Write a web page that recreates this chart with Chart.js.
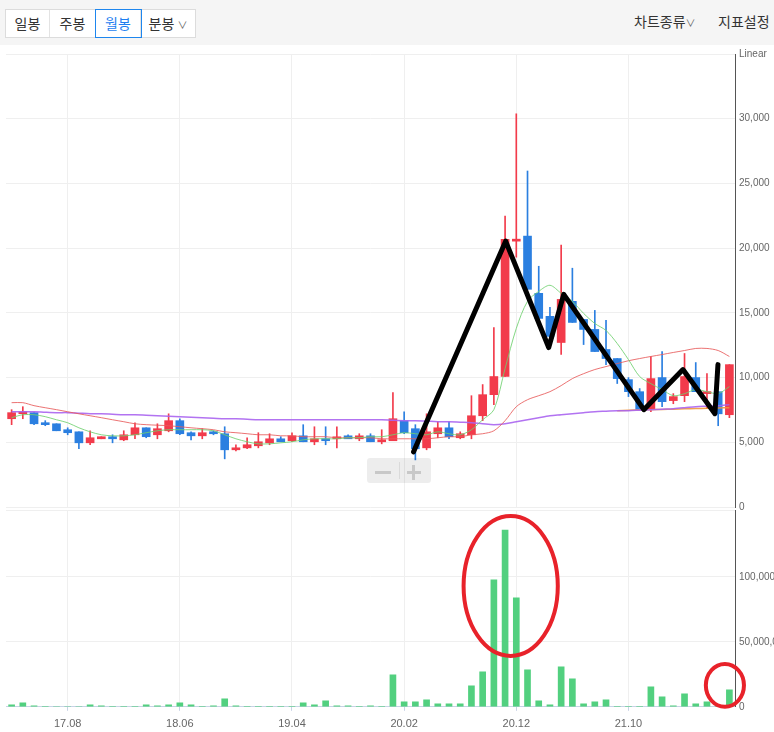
<!DOCTYPE html>
<html>
<head>
<meta charset="utf-8">
<script src="https://cdn.jsdelivr.net/npm/chart.js@4.4.0/dist/chart.umd.min.js"></script>
<style>
  body { margin: 0; width: 774px; height: 732px; overflow: hidden; background: #fff; position: relative; font-family: 'Noto Sans CJK KR', sans-serif; }
  .bar { position: absolute; left: 0; top: 0; width: 774px; height: 45px; background: #f5f5f5; }
  .grp { position: absolute; left: 5px; top: 9px; height: 27px; display: flex; border: 1px solid #dcdcdc; background: #fff; }
  .grp div { height: 27px; line-height: 26px; font-size: 14px; color: #333; text-align: center; border-right: 1px solid #e3e3e3; box-sizing: border-box; }
  .grp div.on { color: #1e7ff0; box-shadow: 0 0 0 1px #1e86ee; position: relative; z-index: 1; }
  .rt { position: absolute; top: 11px; font-size: 14px; color: #333; }
  .caret { font-size: 10px; color: #666; }
  #c1 { position: absolute; left: 0; top: 44px; }
  #c2 { position: absolute; left: 0; top: 500px; }
  .zoombox { position: absolute; left: 367px; top: 458px; width: 64px; height: 25px; background: rgba(0,0,0,0.07); border-radius: 3px; }
  .zoombox i { position: absolute; background: #c8c8c8; }
</style>
</head>
<body>
<div class="bar">
  <div class="grp">
    <div style="width:44px">일봉</div>
    <div style="width:46px">주봉</div>
    <div class="on" style="width:45px">월봉</div>
    <div style="width:54px;border-right:none">분봉 <span class="caret">∨</span></div>
  </div>
  <div class="rt" style="left:634px">차트종류<span class="caret">∨</span></div>
  <div class="rt" style="left:718px">지표설정</div>
</div>
<canvas id="c1" width="774" height="473"></canvas>
<canvas id="c2" width="774" height="238"></canvas>
<div class="zoombox">
  <i style="left:8px;top:13px;width:16px;height:3px"></i>
  <i style="left:32px;top:4px;width:1px;height:17px;background:#dadada"></i>
  <i style="left:40px;top:13px;width:14px;height:3px"></i>
  <i style="left:45px;top:7px;width:3px;height:15px"></i>
</div>
<script>
const months = ['17.03','17.04','17.05','17.06','17.07','17.08','17.09','17.10','17.11','17.12',
  '18.01','18.02','18.03','18.04','18.05','18.06','18.07','18.08','18.09','18.10','18.11','18.12',
  '19.01','19.02','19.03','19.04','19.05','19.06','19.07','19.08','19.09','19.10','19.11','19.12',
  '20.01','20.02','20.03','20.04','20.05','20.06','20.07','20.08','20.09','20.10','20.11','20.12',
  '21.01','21.02','21.03','21.04','21.05','21.06','21.07','21.08','21.09','21.10','21.11','21.12',
  '22.01','22.02','22.03','22.04','22.05','22.06','22.07'];
const shownMonths = ['17.08','18.06','19.04','20.02','20.12','21.10'];

const opens  = [6820,7210,7290,6510,6430,5970,5810,4960,5270,5430,5190,5580,6120,5580,5890,6670,5740,5500,5740,5660,
  4420,4570,4730,4960,5270,5120,5500,5040,5270,5270,5500,5270,5500,5040,5120,6670,6050,4570,5660,6120,
  5350,5580,7050,8680,10080,20540,20930,16510,14730,12710,15890,14490,13720,12170,11470,9840,8910,7520,10000,8220,
  8600,10000,8760,8910,7130];
const closes = [7290,7290,6430,6360,5890,5740,4960,5350,5430,5270,5580,6120,5430,6050,6670,5660,5500,5740,5660,4420,
  4570,4810,5040,5270,5040,5500,5040,5270,5120,5350,5270,5500,5040,5120,6820,5740,4500,5810,6120,5430,
  5660,7050,8680,10080,20690,20690,16820,14570,13180,16040,14260,13720,12010,11470,9920,8910,7520,9920,8140,8530,
  10080,8910,8910,7200,11000];
const highs  = [7520,7750,7290,6670,6430,6120,5810,5890,5430,5580,5890,6510,6120,6430,7200,6820,5810,6050,5890,6200,
  4810,5350,5740,5660,5430,5740,6360,6200,6200,6200,5580,5660,5660,5970,8840,7360,6360,7200,6590,6590,
  5810,8600,9460,13870,22480,30380,25960,18600,15420,20230,18450,14490,15190,14420,11470,10000,9150,11630,12010,8760,
  11860,11160,10310,8910,11000];
const lows   = [6360,6820,6360,6280,5890,5580,4500,4810,5270,4960,5120,5270,5350,5270,5810,5580,5190,5270,5580,3720,
  4340,4500,4570,4810,5040,5040,5040,4810,4810,4570,5270,5120,5040,4880,5120,5660,3640,4420,5350,5270,
  5270,5270,6670,7900,10080,19300,16820,14570,12400,11780,14260,12550,12010,11000,9540,8530,7520,7360,7750,7980,
  8140,8910,7600,6280,6900];

const ma5   = [6900,7130,7130,6980,6740,6510,6120,5810,5580,5500,5500,5580,5740,5890,5970,5970,5970,5970,5890,5580,
  5270,5040,4880,4880,4960,5040,5190,5270,5270,5270,5350,5350,5430,5430,5580,5740,5660,5580,5810,5660,
  5580,5970,6740,7520,10700,13800,15890,16660,17130,16510,15890,14960,14180,13640,12630,11390,10080,9530,9070,8600,
  8760,9070,8910,8760,9300];
const ma20  = [8060,8060,7830,7670,7520,7360,7200,7050,6900,6740,6590,6430,6360,6320,6280,6200,6120,6050,5970,5810,
  5740,5660,5580,5580,5500,5500,5430,5430,5430,5350,5350,5350,5350,5270,5270,5270,5270,5270,5350,5430,
  5430,5580,5660,5890,6670,7750,8290,8600,8910,9380,9920,10300,10620,10850,11080,11300,11470,11630,11780,11940,
  12090,12250,12250,12090,11630];
const ma60  = [7360,7360,7360,7320,7290,7290,7250,7210,7210,7170,7130,7130,7090,7050,7010,6980,6940,6900,6860,6820,
  6820,6780,6740,6740,6740,6740,6740,6740,6740,6740,6740,6740,6740,6740,6700,6670,6670,6630,6590,6590,
  6550,6510,6430,6360,6430,6590,6740,6900,7050,7130,7210,7290,7360,7400,7440,7440,7480,7520,7560,7600,
  7670,7750,7790,7830,7910];
const ma120 = [null,null,null,null,null,null,null,null,null,null,null,null,null,null,null,null,null,null,null,null,
  null,null,null,null,null,null,null,null,null,null,null,null,null,null,null,null,null,null,null,null,
  null,null,null,null,null,null,null,null,null,null,null,null,null,null,7440,7470,7500,7520,7540,7560,
  7590,7610,7630,7650,7670];

const volumes = [1.5e6,3.1e6,0.8e6,0.3e6,0,0,0,1.5e6,0.8e6,0.2e6,0.2e6,0.2e6,1.5e6,0.8e6,1.5e6,3.1e6,1.5e6,0.2e6,0.8e6,6.2e6,
  0.8e6,0.2e6,0.2e6,0.2e6,0.2e6,0.2e6,3.1e6,1.5e6,4.6e6,0.8e6,0.8e6,0.2e6,0.8e6,0.2e6,24.6e6,3.8e6,3.8e6,5.4e6,2.3e6,2.3e6,
  2.3e6,16.2e6,26.9e6,97.7e6,136e6,83.8e6,28.5e6,4.6e6,1.5e6,30.8e6,21.5e6,2.3e6,3.8e6,5.4e6,0.2e6,0.2e6,0.2e6,15.4e6,7.7e6,0.8e6,
  10e6,2.3e6,3.8e6,1e6,13.1e6];
const volumeTicks = [0, 50e6, 100e6];

// hand-drawn marks on the screenshot (month position, price / volume)
const trendX = [35.84,44.05,47.89,49.23,56.37,59.86,62.71,62.98];
const trendY = [4260,20540,12320,16430,7520,10620,7210,11000];
const circleX = [44.5,63.6];
const circleV = [93e6,16.5e6];
const circleRx = [4.2,1.7];
const circleRy = [53.8e6,16.5e6];

const UP = '#f23b4b', DOWN = '#2b7fe0';
const candleColors = opens.map((o, i) => closes[i] >= o ? UP : DOWN);
const tickFont = { family: 'Liberation Sans', size: 10 };
const gridColor = '#efefef';
const VOL_MAX = 151.5e6;

function keepShown(s) {
  s.ticks = s.ticks.filter(t => shownMonths.includes(months[t.value]));
}

new Chart(document.getElementById('c1'), {
  type: 'bar',
  data: {
    labels: months,
    datasets: [
      { type: 'line', data: trendX.map((x, i) => ({ x: x, y: trendY[i] })), xAxisID: 'xa',
        borderColor: '#000', borderWidth: 5, pointRadius: 0, borderJoinStyle: 'round', borderCapStyle: 'round', order: 0, clip: false },
      { type: 'line', data: ma5, borderColor: 'rgba(110,208,110,0.85)', borderWidth: 1, pointRadius: 0, tension: 0.3, order: 1 },
      { type: 'line', data: ma20, borderColor: 'rgba(232,90,90,0.85)', borderWidth: 1, pointRadius: 0, tension: 0.3, order: 1 },
      { type: 'line', data: ma60, borderColor: 'rgba(170,100,240,0.9)', borderWidth: 1.5, pointRadius: 0, tension: 0.3, order: 1 },
      { type: 'line', data: ma120, borderColor: 'rgba(240,150,60,0.9)', borderWidth: 1.5, pointRadius: 0, tension: 0.3, order: 1 },
      { data: opens.map((o, i) => [o, closes[i]]), backgroundColor: candleColors, barThickness: 8, minBarLength: 2, grouped: false, order: 2 },
      { data: lows.map((l, i) => [l, highs[i]]), backgroundColor: candleColors, barThickness: 1, grouped: false, order: 3 }
    ]
  },
  options: {
    responsive: false,
    animation: false,
    layout: { padding: { top: 10, bottom: 9, left: 6, right: 0 } },
    plugins: { legend: { display: false }, tooltip: { enabled: false } },
    scales: {
      x: {
        grid: { offset: false, color: gridColor, drawTicks: false },
        border: { display: false },
        ticks: { display: false, autoSkip: false },
        afterBuildTicks: keepShown,
        afterFit: s => { s.height = 0; }
      },
      xa: { type: 'linear', display: false, offset: false, min: -0.5, max: 64.5 },
      y: {
        position: 'right', min: 0, max: 35000,
        grid: { color: gridColor, drawTicks: false },
        border: { color: '#555' },
        ticks: { stepSize: 5000, padding: 4, color: '#666', font: tickFont,
          callback: v => v === 35000 ? 'Linear' : v.toLocaleString('en-US') },
        afterFit: s => { s.width = 39; }
      }
    }
  }
});

const circlePlugin = {
  id: 'circles',
  afterDraw(chart) {
    const { ctx, scales: { x, y } } = chart;
    ctx.save();
    ctx.strokeStyle = '#e8222a';
    ctx.lineWidth = 4;
    circleX.forEach((cx, i) => {
      const px = x.getPixelForValue(cx), py = y.getPixelForValue(circleV[i]);
      const rx = x.getPixelForValue(cx + circleRx[i]) - px;
      const ry = py - y.getPixelForValue(circleV[i] + circleRy[i]);
      ctx.beginPath();
      ctx.ellipse(px, py, rx, ry, 0, 0, Math.PI * 2);
      ctx.stroke();
    });
    ctx.restore();
  }
};

new Chart(document.getElementById('c2'), {
  type: 'bar',
  data: {
    labels: months,
    datasets: [{ data: volumes, backgroundColor: '#52d07f', barThickness: 6 }]
  },
  options: {
    responsive: false,
    animation: false,
    layout: { padding: { top: 9, bottom: 0, left: 6, right: 0 } },
    plugins: { legend: { display: false }, tooltip: { enabled: false } },
    scales: {
      x: {
        grid: { offset: false, color: gridColor, tickColor: '#c8d2e6', tickLength: 4 },
        border: { color: '#c8d2e6' },
        ticks: { autoSkip: false, maxRotation: 0, color: '#666', font: { family: 'Liberation Sans', size: 11 }, padding: 7 },
        afterBuildTicks: keepShown
      },
      y: {
        position: 'right', min: 0, max: VOL_MAX,
        grid: { color: gridColor, drawTicks: false },
        border: { color: '#555' },
        ticks: { padding: 4, color: '#666', font: tickFont,
          callback: v => v === VOL_MAX ? '' : v.toLocaleString('en-US') },
        afterBuildTicks: s => { s.ticks = volumeTicks.concat([VOL_MAX]).map(v => ({ value: v })); },
        afterFit: s => { s.width = 39; }
      }
    }
  },
  plugins: [circlePlugin]
});
</script>
</body>
</html>
